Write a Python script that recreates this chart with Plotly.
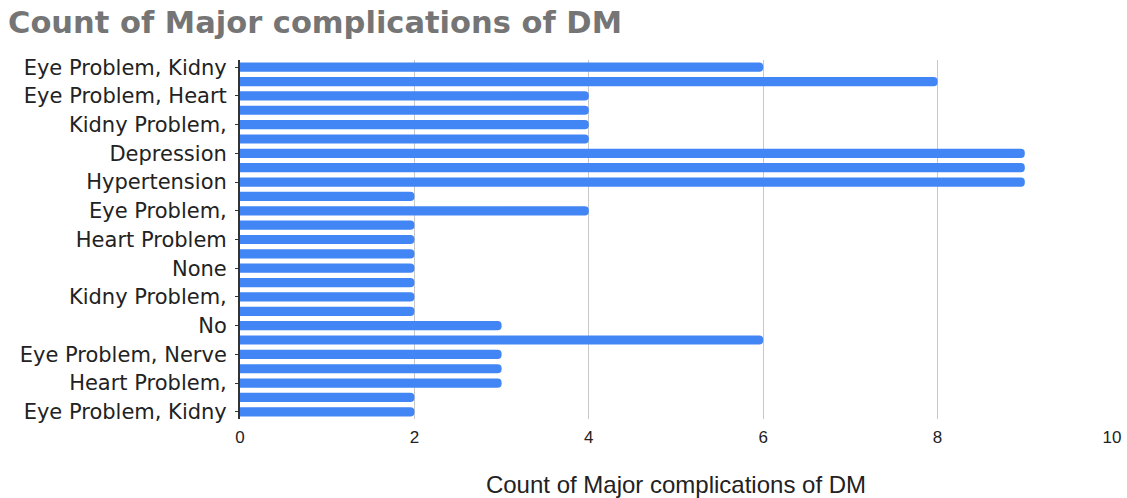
import plotly.graph_objects as go

# Categories (every other label is shown on the chart; unlabeled rows left blank)
categories = [
    "Eye Problem, Kidny", "", "Eye Problem, Heart", "", "Kidny Problem,", "",
    "Depression", "", "Hypertension", "", "Eye Problem,", "",
    "Heart Problem", "", "None", "", "Kidny Problem,", "",
    "No", "", "Eye Problem, Nerve", "", "Heart Problem,", "",
    "Eye Problem, Kidny",
]
counts = [6, 8, 4, 4, 4, 4, 9, 9, 9, 2, 4, 2, 2, 2, 2, 2, 2, 2, 3, 6, 3, 3, 3, 2, 2]
x_ticks = [0, 2, 4, 6, 8, 10]

positions = list(range(len(counts)))
tickvals = [i for i, c in enumerate(categories) if c]
ticktext = [c for c in categories if c]

fig = go.Figure(go.Bar(
    x=counts,
    y=positions,
    orientation="h",
    marker=dict(color="#4285F4", line=dict(width=0)),
    hovertext=categories,
))

fig.update_layout(
    width=1127, height=498,
    paper_bgcolor="white", plot_bgcolor="white",
    margin=dict(l=240, r=15, t=60, b=79),
    bargap=0.36,
    barcornerradius=4,
    showlegend=False,
    title=dict(
        text="Count of Major complications of DM",
        font=dict(family="DejaVu Sans", size=30.5, color="#757575", weight="bold"),
        xref="container", yref="container",
        x=8 / 1127, xanchor="left",
        y=1 - 22 / 498, yanchor="middle",
    ),
    xaxis=dict(
        range=[0, 10],
        tickvals=x_ticks,
        showgrid=True, gridcolor="#c8c8c8", gridwidth=1,
        zeroline=False,
        showline=False,
        ticks="",
        tickfont=dict(family="Liberation Sans", size=17, color="#222222"),
        ticklabelstandoff=6,
        title=dict(
            text="Count of Major complications of DM",
            font=dict(family="Liberation Sans", size=24, color="#222222"),
            standoff=34,
        ),
        automargin=False,
    ),
    yaxis=dict(
        range=[len(counts) - 0.5, -0.5],
        tickvals=tickvals,
        ticktext=ticktext,
        showgrid=False,
        zeroline=False,
        showline=True, linecolor="#333333", linewidth=2,
        ticks="outside", ticklen=3, tickcolor="#333333",
        tickfont=dict(family="DejaVu Sans", size=21, color="#222222"),
        ticklabelstandoff=4,
        automargin=False,
    ),
)

fig.write_html("out.html")
